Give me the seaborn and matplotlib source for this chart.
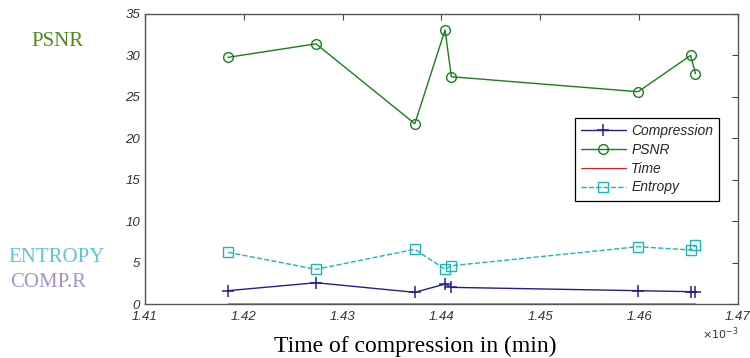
import matplotlib
matplotlib.use("Agg")
import matplotlib.pyplot as plt
import matplotlib.ticker as mticker
import seaborn as sns
import pandas as pd
import numpy as np

# time of compression (min) and measured values
time_min = [1.4184e-3, 1.4273e-3, 1.4373e-3, 1.44036e-3, 1.4410e-3, 1.4599e-3, 1.4652e-3, 1.4657e-3]
compression = [1.61, 2.57, 1.41, 2.41, 2.01, 1.61, 1.49, 1.49]
psnr = [29.77, 31.4, 21.76, 33.07, 27.43, 25.62, 30.0, 27.8]
entropy = [6.24, 4.19, 6.6, 4.19, 4.62, 6.92, 6.52, 7.08]
x_ticks = [1.41e-3, 1.42e-3, 1.43e-3, 1.44e-3, 1.45e-3, 1.46e-3, 1.47e-3]
y_ticks = [0, 5, 10, 15, 20, 25, 30, 35]

df = pd.DataFrame({"Time": time_min, "Compression": compression,
                   "PSNR": psnr, "Entropy": entropy})

sns.set_theme(style="white")
plt.rcParams['font.family'] = ['Liberation Sans', 'DejaVu Sans']

fig = plt.figure(figsize=(7.5, 3.58), dpi=100)
ax = fig.add_axes([0.1933, 0.1508, 0.7907, 0.8101])

sns.lineplot(data=df, x="Time", y="Compression", ax=ax, color="#1f1f8f", marker="+",
             markersize=8, markeredgecolor="#1f1f8f", markeredgewidth=1.1,
             linewidth=1.0, label="Compression", estimator=None)
sns.lineplot(data=df, x="Time", y="PSNR", ax=ax, color="#1a7f1a", marker="o",
             markersize=7, markerfacecolor="none", markeredgecolor="#1a7f1a",
             markeredgewidth=1.0, linewidth=1.0, label="PSNR", estimator=None)
sns.lineplot(data=df, x="Time", y="Time", ax=ax, color="#e02020", linewidth=0.8,
             label="Time", estimator=None, zorder=1)
sns.lineplot(data=df, x="Time", y="Entropy", ax=ax, color="#1fb5b5", marker="s",
             markersize=7, markerfacecolor="none", markeredgecolor="#1fb5b5",
             markeredgewidth=1.0, linewidth=1.0, linestyle="--", dashes=(5, 3),
             label="Entropy", estimator=None)

ax.set_xlim(1.41e-3, 1.47e-3)
ax.set_ylim(0, 35)
ax.set_xticks(x_ticks)
ax.set_yticks(y_ticks)
ax.xaxis.set_major_formatter(mticker.FuncFormatter(lambda v, p: f"{v * 1e3:.2f}"))
ax.tick_params(direction="in", length=4, top=True, right=True, colors="#444444",
               labelsize=9.5, width=0.8)
ax.tick_params(axis="x", pad=5)
for lab in ax.get_xticklabels() + ax.get_yticklabels():
    lab.set_fontstyle("italic")
    lab.set_color("#333333")
for s in ax.spines.values():
    s.set_color("#555555")
    s.set_linewidth(1.0)
ax.set_xlabel("")
ax.set_ylabel("")

ax.text(1.0, -0.075, r"$\times10^{-3}$", transform=ax.transAxes, ha="right", va="top",
        fontsize=8, color="#333333", style="italic")

leg = ax.legend(loc="upper left", bbox_to_anchor=(0.725, 0.643), frameon=True,
                fancybox=False, edgecolor="black", framealpha=1, fontsize=10,
                handlelength=3.2, borderpad=0.45, labelspacing=0.35, handletextpad=0.4,
                borderaxespad=0)
leg.get_frame().set_linewidth(0.9)
for t in leg.get_texts():
    t.set_fontstyle("italic")

serif = ['Liberation Serif', 'DejaVu Serif']
fig.text(0.554, 0.04, "Time of compression in (min)", ha="center", va="center_baseline",
         fontsize=17, family=serif, color="black")
fig.text(0.076, 0.883, "PSNR", ha="center", va="center", fontsize=15, family=serif, color="#4f8a1f")
fig.text(0.075, 0.282, "ENTROPY", ha="center", va="center", fontsize=15, family=serif, color="#62c4d4")
fig.text(0.064, 0.212, "COMP.R", ha="center", va="center", fontsize=15, family=serif, color="#a493cc")

fig.savefig("out.png", dpi=100)
